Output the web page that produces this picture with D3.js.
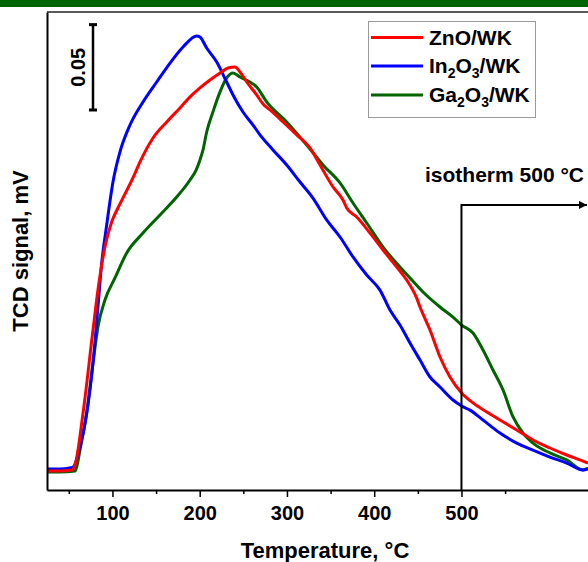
<!DOCTYPE html>
<html>
<head>
<meta charset="utf-8">
<script src="https://cdn.jsdelivr.net/npm/d3@7"></script>
<style>
    body { margin: 0; background: #fff; }
    svg { display: block; font-family: "Liberation Sans", Arial, sans-serif; font-weight: bold; }
</style>
</head>
<body>
<svg id="chart" width="588" height="562"></svg>
<script>
// temperature (°C) and TCD signal (mV)
const tempZnO = [25, 40, 53.6, 57.1, 66.3, 77.7, 83.4, 91.4, 99.1, 106.3, 112.1, 123.5, 131.6, 146.5, 162.2, 177.4, 188.9, 200.3, 211.8, 223.3, 232.4, 240.5, 246.2, 253.9, 265.3, 272.6, 280.6, 295.5, 311.2, 326.4, 337.9, 352.8, 364.2, 368.5, 379.9, 395.2, 410.1, 425.8, 437.2, 448.7, 452.5, 463.9, 475.4, 486.8, 500.2, 513.2, 528.9, 544.1, 563.3, 582, 601.4, 620.6, 635.8, 645];
const sigZnO = [0.0011, 0.0011, 0.0017, 0.0046, 0.0351, 0.0837, 0.1072, 0.1324, 0.1470, 0.1552, 0.1611, 0.1728, 0.1822, 0.1962, 0.2056, 0.2138, 0.2203, 0.2256, 0.2302, 0.2343, 0.2372, 0.2378, 0.2349, 0.2290, 0.2214, 0.2161, 0.2126, 0.2056, 0.1980, 0.1904, 0.1804, 0.1675, 0.1599, 0.1552, 0.1499, 0.1405, 0.1306, 0.1206, 0.1130, 0.1024, 0.0972, 0.0837, 0.0679, 0.0562, 0.0468, 0.0410, 0.0357, 0.0310, 0.0251, 0.0193, 0.0146, 0.0105, 0.0076, 0.0058];

const tempIn = [25, 40, 51, 55, 62.8, 70.5, 77.7, 83.4, 87.7, 93.4, 100.6, 108.6, 120.1, 135, 150.7, 166, 180.9, 196.6, 200.3, 208, 219.5, 230.9, 238.2, 249.6, 261.1, 269.1, 284, 299.7, 315, 329.8, 345.5, 360.8, 375.7, 391.4, 406.6, 418.1, 429.5, 441, 452.5, 463.9, 475.4, 490.3, 500.2, 509.8, 524.7, 544.1, 563.3, 582, 601.4, 620.6, 639.3, 645];
const sigIn = [0.0023, 0.0023, 0.0029, 0.0035, 0.0152, 0.0350, 0.0644, 0.0972, 0.1230, 0.1452, 0.1704, 0.1880, 0.2038, 0.2173, 0.2290, 0.2401, 0.2495, 0.2560, 0.2554, 0.2489, 0.2407, 0.2290, 0.2214, 0.2114, 0.2038, 0.1980, 0.1892, 0.1804, 0.1704, 0.1610, 0.1482, 0.1382, 0.1265, 0.1159, 0.1071, 0.0954, 0.0866, 0.0761, 0.0661, 0.0562, 0.0503, 0.0427, 0.0392, 0.0368, 0.0310, 0.0234, 0.0175, 0.0134, 0.0093, 0.0058, 0.0017, 0.0023];

const tempGa = [25, 40, 57.1, 59, 62.8, 70.5, 77.7, 83.4, 91.4, 102.9, 116.3, 135, 154.5, 173.6, 188.9, 196, 200.3, 203.8, 208, 215.2, 223.3, 230.9, 238.2, 246.2, 257.6, 265.3, 276.8, 299.7, 322.6, 341.3, 360.8, 375.7, 391.4, 410.1, 429.5, 441, 455.9, 475.4, 490.3, 500.2, 513.2, 524.7, 536.1, 547.6, 559.1, 570.5, 582, 601.4, 620.6, 639.3, 645];
const sigGa = [0.0005, 0.0005, 0.0011, 0.0035, 0.0134, 0.0351, 0.0644, 0.0855, 0.1013, 0.1142, 0.1288, 0.1405, 0.1511, 0.1616, 0.1716, 0.1775, 0.1833, 0.1892, 0.1997, 0.2115, 0.2232, 0.2314, 0.2343, 0.2319, 0.2290, 0.2261, 0.2173, 0.2056, 0.1921, 0.1804, 0.1699, 0.1581, 0.1464, 0.1323, 0.1206, 0.1142, 0.1060, 0.0972, 0.0913, 0.0866, 0.0820, 0.0720, 0.0603, 0.0486, 0.0328, 0.0234, 0.0175, 0.0117, 0.0076, 0.0017, 0.0029];

const majorTicks = [100, 200, 300, 400, 500];
const minorTicks = [50, 150, 250, 350, 450, 550];
const isothermTemp = 500;
const scaleBarValue = 0.05;

const series = [
    { name: ['ZnO/WK'], color: '#ff0000', t: tempZnO, s: sigZnO },
    { name: ['In', '2', 'O', '3', '/WK'], color: '#0000ff', t: tempIn, s: sigIn },
    { name: ['Ga', '2', 'O', '3', '/WK'], color: '#006400', t: tempGa, s: sigGa }
];

const svg = d3.select('#chart'),
    pLeft = 47, pRight = 588, pTop = 12, pBottom = 490;

const x = d3.scaleLinear().domain([25, 645]).range([pLeft, pRight]);
const y = d3.scaleLinear().domain([-0.01, 0.27]).range([pBottom, pTop]);

svg.append('rect')
    .attr('x', 0).attr('y', 0)
    .attr('width', 588).attr('height', 7)
    .attr('fill', '#006400');

svg.append('line')
    .attr('x1', pLeft).attr('x2', pRight)
    .attr('y1', pTop).attr('y2', pTop)
    .attr('stroke', '#222').attr('stroke-width', 1.5);

svg.append('clipPath').attr('id', 'clip')
    .append('rect')
    .attr('x', pLeft).attr('y', pTop)
    .attr('width', pRight - pLeft).attr('height', pBottom - pTop);

const line = d3.line()
    .curve(d3.curveMonotoneX)
    .x(d => x(d[0]))
    .y(d => y(d[1]));

// green first, then blue, red on top (as in the reference)
const order = [2, 1, 0];
svg.append('g')
    .attr('clip-path', 'url(#clip)')
    .attr('fill', 'none')
    .attr('stroke-width', 3)
    .attr('stroke-linejoin', 'round')
    .selectAll('path')
    .data(order.map(i => series[i]))
    .enter()
    .append('path')
    .attr('stroke', d => d.color)
    .attr('d', d => line(d.t.map((t, i) => [t, d.s[i]])));

const xAxis = svg.append('g')
    .attr('transform', `translate(0, ${pBottom})`)
    .call(d3.axisBottom(x).tickValues(majorTicks).tickSize(7).tickSizeOuter(0).tickPadding(9));

xAxis.select('.domain').attr('stroke-width', 2);
xAxis.selectAll('.tick line').attr('stroke-width', 1.5);
xAxis.selectAll('.tick text')
    .attr('font-size', 20)
    .attr('font-family', '"Liberation Sans", Arial, sans-serif')
    .attr('font-weight', 'bold')
    .attr('fill', '#000');

const xMinor = svg.append('g')
    .attr('transform', `translate(0, ${pBottom})`)
    .call(d3.axisBottom(x).tickValues(minorTicks).tickSize(4).tickFormat(''));
xMinor.select('.domain').remove();
xMinor.selectAll('.tick line').attr('stroke-width', 1.5);

const yAxis = svg.append('g')
    .attr('transform', `translate(${pLeft}, 0)`)
    .call(d3.axisLeft(y).tickValues([]).tickSizeOuter(0));
yAxis.select('.domain').attr('stroke-width', 2);

svg.append('text')
    .attr('x', 325).attr('y', 558)
    .attr('text-anchor', 'middle')
    .attr('font-size', 22)
    .text('Temperature, °C');

svg.append('text')
    .attr('transform', 'translate(28, 251) rotate(-90)')
    .attr('text-anchor', 'middle')
    .attr('font-size', 22)
    .text('TCD signal, mV');

// scale bar
const barX = 93, barBase = 0.2126;
const bar = svg.append('g').attr('stroke', '#000').attr('stroke-width', 2.5);
bar.append('line')
    .attr('x1', barX).attr('x2', barX)
    .attr('y1', y(barBase)).attr('y2', y(barBase + scaleBarValue));
[barBase, barBase + scaleBarValue].forEach(v => {
    bar.append('line')
        .attr('x1', barX - 4).attr('x2', barX + 4)
        .attr('y1', y(v)).attr('y2', y(v))
        .attr('stroke-width', 3);
});
svg.append('text')
    .attr('transform', `translate(85, ${y(barBase + scaleBarValue / 2)}) rotate(-90)`)
    .attr('text-anchor', 'middle')
    .attr('font-size', 20)
    .text(scaleBarValue.toFixed(2));

// isotherm marker
const isoLevel = 0.157;
svg.append('defs').append('marker')
    .attr('id', 'arrow')
    .attr('viewBox', '0 0 10 10')
    .attr('refX', 10).attr('refY', 5)
    .attr('markerWidth', 4).attr('markerHeight', 4)
    .attr('orient', 'auto')
    .append('path')
    .attr('d', 'M0,0L10,5L0,10z')
    .attr('fill', '#000');

svg.append('path')
    .attr('d', `M${x(isothermTemp)},${pBottom}V${y(isoLevel)}H${pRight - 1}`)
    .attr('fill', 'none')
    .attr('stroke', '#000')
    .attr('stroke-width', 2)
    .attr('marker-end', 'url(#arrow)');

svg.append('text')
    .attr('x', 584).attr('y', 182)
    .attr('text-anchor', 'end')
    .attr('font-size', 21)
    .text(`isotherm ${isothermTemp} °C`);

// legend
const legend = svg.append('g');
legend.append('rect')
    .attr('x', 368.5).attr('y', 21.5)
    .attr('width', 167).attr('height', 96)
    .attr('fill', '#fff')
    .attr('stroke', '#999');

const rows = [37.5, 66, 95];
series.forEach((d, i) => {
    legend.append('line')
        .attr('x1', 371).attr('x2', 423)
        .attr('y1', rows[i]).attr('y2', rows[i])
        .attr('stroke', d.color).attr('stroke-width', 3);
    const txt = legend.append('text')
        .attr('x', 429).attr('y', rows[i] + 7)
        .attr('font-size', 21);
    d.name.forEach((part, j) => {
        const sub = /^\d$/.test(part);
        txt.append('tspan')
            .attr('font-size', sub ? 14 : 21)
            .attr('dy', sub ? 5 : (j > 0 ? -5 : 0))
            .text(part);
    });
});
</script>
</body>
</html>
